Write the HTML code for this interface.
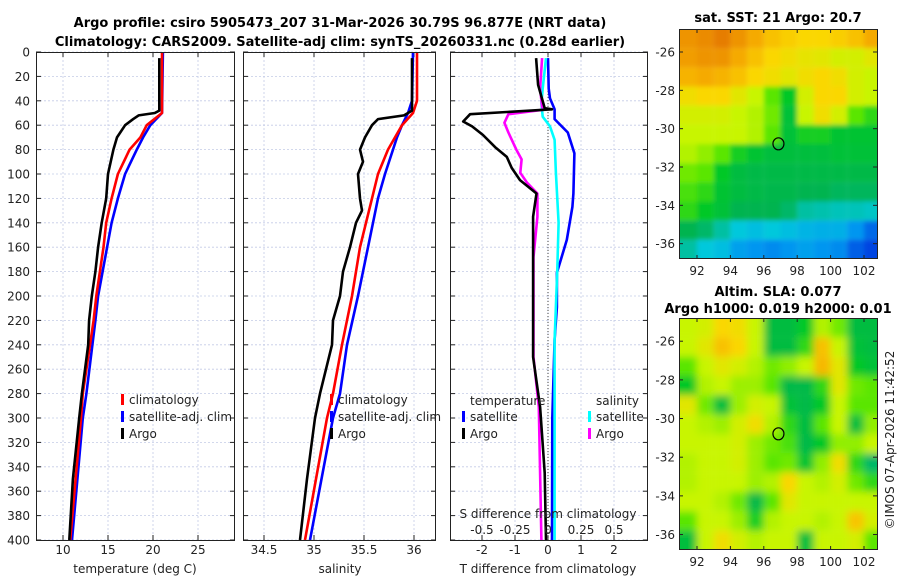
<!DOCTYPE html>
<html><head><meta charset="utf-8"><style>
html,body{margin:0;padding:0;background:#fff;}
svg{display:block;font-family:"DejaVu Sans","Liberation Sans",sans-serif;}
</style></head><body>
<svg id="chart" width="900" height="580" viewBox="0 0 900 580" xmlns="http://www.w3.org/2000/svg">
<defs>
<clipPath id="c1"><rect x="36" y="52" width="199" height="488"/></clipPath>
<clipPath id="c2"><rect x="243" y="52" width="193" height="488"/></clipPath>
<clipPath id="c3"><rect x="450" y="52" width="198" height="488"/></clipPath>
<clipPath id="cm1"><rect x="679" y="29" width="198" height="230"/></clipPath>
<clipPath id="cm2"><rect x="679" y="318" width="198" height="232"/></clipPath>
<filter id="blur1" x="-5%" y="-5%" width="110%" height="110%"><feGaussianBlur stdDeviation="2.5"/></filter>
<filter id="blur2" x="-5%" y="-5%" width="110%" height="110%"><feGaussianBlur stdDeviation="4"/></filter>
</defs>
<text x="340" y="27" text-anchor="middle" font-size="13" font-weight="bold">Argo profile: csiro 5905473_207 31-Mar-2026 30.79S 96.877E (NRT data)</text>
<text x="340" y="46" text-anchor="middle" font-size="13" font-weight="bold">Climatology: CARS2009. Satellite-adj clim: synTS_20260331.nc (0.28d earlier)</text>
<text x="778" y="22" text-anchor="middle" font-size="13" font-weight="bold">sat. SST: 21 Argo: 20.7</text>
<text x="778" y="296" text-anchor="middle" font-size="13" font-weight="bold">Altim. SLA: 0.077</text>
<text x="778" y="313" text-anchor="middle" font-size="13" font-weight="bold">Argo h1000: 0.019 h2000: 0.01</text>
<text transform="translate(894,440) rotate(-90)" text-anchor="middle" font-size="12" fill="#222">©IMOS 07-Apr-2026 11:42:52</text>
<g id="root"></g>
</svg>
<script>
// ---------- data ----------
const depthTicks = [0,20,40,60,80,100,120,140,160,180,200,220,240,260,280,300,320,340,360,380,400];
const tTicks = [10,15,20,25];
const sTicks = [34.5,35,35.5,36];
const dtTicks = [-2,-1,0,1,2];
const dsTickLabels = ["-0.5","-0.25","0","0.25","0.5"];
const dsTicks = [-0.5,-0.25,0,0.25,0.5];

const tArgoDepth = [5,30,48,50,52,55,60,70,80,100,120,140,160,180,200,220,240,280,300,350,400];
const tArgo      = [20.7,20.7,20.7,20.2,18.4,17.8,16.9,16.0,15.6,15.0,14.8,14.3,13.9,13.6,13.2,12.9,12.8,12.1,11.8,11.1,10.7];
const tClimDepth = [0,50,60,70,80,100,120,140,160,180,200,220,280,300,400];
const tClim      = [21.0,21.0,19.3,18.6,17.4,16.1,15.4,14.8,14.5,14.1,13.7,13.4,12.2,12.0,10.8];
const tSat       = [21.1,21.0,19.7,18.9,18.2,16.9,16.1,15.4,14.9,14.4,13.9,13.6,12.6,12.2,11.0];

const sArgoDepth = [5,48,52,55,60,70,80,90,100,120,130,140,160,180,200,220,240,280,300,350,400];
const sArgo      = [35.98,35.98,35.9,35.64,35.58,35.51,35.46,35.49,35.44,35.46,35.48,35.42,35.36,35.29,35.26,35.19,35.18,35.06,35.01,34.93,34.86];
const sClimDepth = [0,40,50,60,70,80,100,120,160,200,240,280,300,400];
const sClim      = [36.03,36.03,35.99,35.88,35.81,35.74,35.64,35.58,35.46,35.38,35.28,35.19,35.13,34.91];
const sSat       = [35.99,35.98,35.94,35.88,35.83,35.79,35.71,35.64,35.54,35.44,35.33,35.26,35.19,34.96];

const dtArgoDepth = [5,27,46,47,51,57,61,68,78,86,95,105,116,135,250,291,345,400];
const dtArgo      = [-0.36,-0.3,-0.1,0.12,-2.36,-2.57,-2.3,-1.97,-1.6,-1.25,-1.1,-0.85,-0.35,-0.45,-0.45,-0.24,-0.1,-0.06];
const dtSatDepth = [5,30,38,47,55,66,83,116,127,154,181,209,236,300,400];
const dtSat      = [0,0.02,0.06,0.2,0.2,0.6,0.8,0.77,0.74,0.57,0.27,0.27,0.2,0.13,0.12];
const dsArgoDepth = [5,30,45,47,51,58,66,80,88,99,107,116,135,168,250,291,400];
const dsArgo      = [-0.045,-0.06,-0.045,-0.01,-0.3,-0.33,-0.3,-0.24,-0.2,-0.21,-0.16,-0.08,-0.08,-0.11,-0.11,-0.07,-0.05];
const dsSatDepth = [5,30,42,53,61,72,99,140,181,236,400];
const dsSat      = [-0.015,-0.04,-0.05,-0.04,0.015,0.05,0.06,0.08,0.07,0.05,0.05];

const mapLonTicks = [92,94,96,98,100,102];
const mapLatTicks = [-26,-28,-30,-32,-34,-36];
const argoLon = 96.877, argoLat = -30.79;
const sstGrid = [
[0.95,0.97,1.0,0.95,0.9,0.85,0.82,0.8,0.8,0.82,0.85,0.9],
[0.93,0.95,0.95,0.9,0.85,0.8,0.78,0.76,0.75,0.72,0.72,0.75],
[0.88,0.9,0.88,0.85,0.8,0.78,0.75,0.78,0.8,0.78,0.72,0.7],
[0.78,0.8,0.8,0.75,0.7,0.6,0.5,0.72,0.8,0.8,0.72,0.7],
[0.72,0.72,0.72,0.7,0.68,0.62,0.47,0.7,0.78,0.72,0.6,0.55],
[0.7,0.7,0.7,0.7,0.68,0.6,0.47,0.52,0.52,0.48,0.48,0.48],
[0.68,0.65,0.6,0.52,0.48,0.46,0.46,0.46,0.46,0.47,0.47,0.47],
[0.62,0.6,0.5,0.45,0.44,0.44,0.44,0.44,0.44,0.44,0.44,0.44],
[0.58,0.55,0.48,0.45,0.44,0.43,0.43,0.42,0.42,0.41,0.41,0.41],
[0.55,0.5,0.47,0.42,0.42,0.42,0.4,0.35,0.34,0.33,0.33,0.32],
[0.42,0.4,0.35,0.3,0.28,0.3,0.28,0.26,0.25,0.25,0.2,0.12],
[0.35,0.3,0.28,0.22,0.2,0.18,0.2,0.22,0.2,0.18,0.1,0.05]];
const slaGrid = [
[0.7,0.72,0.8,0.78,0.7,0.45,0.45,0.5,0.68,0.62,0.45,0.45],
[0.7,0.75,0.85,0.8,0.7,0.45,0.45,0.55,0.85,0.7,0.47,0.45],
[0.6,0.7,0.75,0.72,0.68,0.62,0.65,0.7,0.87,0.75,0.5,0.47],
[0.5,0.68,0.7,0.66,0.66,0.6,0.44,0.44,0.55,0.75,0.62,0.6],
[0.75,0.62,0.46,0.66,0.72,0.7,0.47,0.44,0.5,0.7,0.6,0.6],
[0.7,0.68,0.66,0.72,0.78,0.68,0.55,0.45,0.6,0.7,0.46,0.65],
[0.7,0.7,0.7,0.72,0.66,0.62,0.58,0.44,0.5,0.65,0.65,0.7],
[0.68,0.7,0.7,0.72,0.66,0.6,0.62,0.48,0.65,0.78,0.55,0.4],
[0.68,0.7,0.7,0.7,0.66,0.68,0.8,0.7,0.68,0.72,0.62,0.55],
[0.7,0.7,0.68,0.62,0.44,0.6,0.75,0.7,0.7,0.7,0.7,0.7],
[0.6,0.7,0.7,0.66,0.52,0.68,0.7,0.7,0.68,0.7,0.84,0.72],
[0.46,0.7,0.78,0.72,0.68,0.7,0.7,0.46,0.7,0.7,0.72,0.6]];

// ---------- helpers ----------
const NS = "http://www.w3.org/2000/svg";
const root = document.getElementById('root');
function el(tag, attrs, parent){ const e=document.createElementNS(NS,tag); for(const k in attrs) e.setAttribute(k,attrs[k]); (parent||root).appendChild(e); return e; }
const Y0=52, Y1=540;
const yD = d => Y0 + d*(Y1-Y0)/400;
const xT = t => 63 + (t-10)*9;
const xS = s => 314 + (s-35)*100;
const xDT = v => 548 + v*33;
const xDS = v => 548 + v*132;

function panel(x0,x1,name){
  const g=el('g',{});
  
  
  depthTicks.forEach(d=>{
    const l=el('line',{x1:x0,x2:x1,y1:yD(d),y2:yD(d),stroke:'#c4cbe6','stroke-width':0.8,'stroke-dasharray':'2,2'},g);
    
    
    el('line',{x1:x0,x2:x0+5,y1:yD(d),y2:yD(d),stroke:'#222'},g);
    el('line',{x1:x1-5,x2:x1,y1:yD(d),y2:yD(d),stroke:'#222'},g);
  });
  return g;
}
function vgrid(g,xs){ xs.forEach(x=>{
  const l=el('line',{x1:x,x2:x,y1:Y0,y2:Y1,stroke:'#c4cbe6','stroke-width':0.8,'stroke-dasharray':'2,2'},g);
  
  
  el('line',{x1:x,x2:x,y1:Y1-5,y2:Y1,stroke:'#222'},g);
  el('line',{x1:x,x2:x,y1:Y0,y2:Y0+5,stroke:'#222'},g);
});}
function frame(g,x0,x1){ el('rect',{x:x0+0.5,y:Y0+0.5,width:x1-x0-1,height:Y1-Y0,fill:'none',stroke:'#222','stroke-width':1},g); }
function line(g,depths,vals,fx,color,name,clip){
  const pts=depths.map((d,i)=>fx(vals[i]).toFixed(1)+','+yD(d).toFixed(1)).join(' ');
  const p=el('polyline',{points:pts,fill:'none',stroke:color,'stroke-width':2.6,'stroke-linejoin':'round','clip-path':'url(#'+clip+')'},g);
  
  
}
function text(g,x,y,s,anchor,size,name){
  const t=el('text',{x:x,y:y,'text-anchor':anchor||'start','font-size':size||12,fill:'#222'},g);
  t.textContent=s;
  
  
  return t;
}
function legend(g,x,y,color,label){
  const m=el('rect',{x:x,y:y-10,width:3,height:11,fill:color},g);
  
  
  text(g,x+8,y,label,'start',12,'legend-entry');
}

// ---------- panel 1: temperature ----------
const p1=panel(36,235,'temperature-panel');
vgrid(p1,tTicks.map(xT));
line(p1,tClimDepth,tSat,xT,'#0000ff','temp-satellite-line','c1');
line(p1,tClimDepth,tClim,xT,'#ff0000','temp-climatology-line','c1');
line(p1,tArgoDepth,tArgo,xT,'#000000','temp-argo-line','c1');
frame(p1,36,235);
depthTicks.forEach(d=>text(p1,30,yD(d)+4.5,String(d),'end',12,'depth-tick-label'));
tTicks.forEach(t=>text(p1,xT(t),554,String(t),'middle',12,'temp-tick-label'));
text(p1,135,573,'temperature (deg C)','middle',12,'temp-axis-title');
legend(p1,121,404,'#ff0000','climatology');
legend(p1,121,421,'#0000ff','satellite-adj. clim');
legend(p1,121,438,'#000000','Argo');

// ---------- panel 2: salinity ----------
const p2=panel(243,436,'salinity-panel');
vgrid(p2,sTicks.map(xS));
line(p2,sClimDepth,sSat,xS,'#0000ff','sal-satellite-line','c2');
line(p2,sClimDepth,sClim,xS,'#ff0000','sal-climatology-line','c2');
line(p2,sArgoDepth,sArgo,xS,'#000000','sal-argo-line','c2');
frame(p2,243,436);
sTicks.forEach(s=>text(p2,xS(s),554,String(s),'middle',12,'sal-tick-label'));
text(p2,340,573,'salinity','middle',12,'sal-axis-title');
legend(p2,330,404,'#ff0000','climatology');
legend(p2,330,421,'#0000ff','satellite-adj. clim');
legend(p2,330,438,'#000000','Argo');

// ---------- panel 3: differences ----------
const p3=panel(450,648,'difference-panel');
vgrid(p3,dtTicks.map(xDT));
const zl=el('line',{x1:548,x2:548,y1:Y0,y2:Y1,stroke:'#444','stroke-width':1,'stroke-dasharray':'1,2'},p3);


line(p3,dtSatDepth,dtSat,xDT,'#0000ff','dT-satellite-line','c3');
line(p3,dsSatDepth,dsSat,xDS,'#00ffff','dS-satellite-line','c3');
line(p3,dsArgoDepth,dsArgo,xDS,'#ff00ff','dS-argo-line','c3');
line(p3,dtArgoDepth,dtArgo,xDT,'#000000','dT-argo-line','c3');
frame(p3,450,648);
dtTicks.forEach(t=>text(p3,xDT(t),554,String(t),'middle',12,'dT-tick-label'));
text(p3,548,573,'T difference from climatology','middle',12,'dT-axis-title');
text(p3,548,518,'S difference from climatology','middle',12,'dS-axis-title');
dsTicks.forEach((v,i)=>text(p3,xDS(v),534,dsTickLabels[i],'middle',12,'dS-tick-label'));
text(p3,470,405,'temperature','start',12,'legend-heading-temperature');
text(p3,596,405,'salinity','start',12,'legend-heading-salinity');
legend(p3,462,421,'#0000ff','satellite');
legend(p3,462,438,'#000000','Argo');
legend(p3,588,421,'#00ffff','satellite');
legend(p3,588,438,'#ff00ff','Argo');

// ---------- maps ----------
const cstops=[[0,[0,40,220]],[0.2,[0,150,240]],[0.3,[0,200,220]],[0.42,[0,180,80]],[0.5,[0,200,40]],[0.6,[90,230,0]],[0.7,[200,245,0]],[0.8,[250,215,0]],[0.9,[245,170,0]],[1,[230,125,0]]];
function cmap(v){
  for(let i=1;i<cstops.length;i++){ if(v<=cstops[i][0]){ const a=cstops[i-1],b=cstops[i],f=(v-a[0])/(b[0]-a[0]);
    return 'rgb('+a[1].map((c,k)=>Math.round(c+(b[1][k]-c)*f)).join(',')+')'; } }
  return 'rgb(230,125,0)';
}
function drawMap(grid,top,bottom,clip,blur,name){
  const g=el('g',{});
  
  
  const mx=lon=>697+(lon-92)*16.7;
  const my=lat=>top+(-24.8-lat)*(bottom-top)/12;
  const inner=el('g',{'clip-path':'url(#'+clip+')'},g);
  const bl=el('g',{filter:'url(#'+blur+')'},inner);
  grid.forEach((row,r)=>row.forEach((v,c)=>{
    const lonA=91+c, latA=-24.8-r;
    const cell=el('rect',{x:mx(lonA)-(c===0?20:0),y:my(latA)-(r===0?20:0),width:mx(lonA+1)-mx(lonA)+(c===0?20:0)+(c===11?20:0),height:my(latA-1)-my(latA)+(r===0?20:0)+(r===11?20:0),fill:cmap(v)},bl);
    
    
  }));
  el('rect',{x:679.5,y:top+0.5,width:198,height:bottom-top-1,fill:'none',stroke:'#222'},g);
  mapLonTicks.forEach(l=>{ el('line',{x1:mx(l),x2:mx(l),y1:bottom-4,y2:bottom,stroke:'#222'},g); el('line',{x1:mx(l),x2:mx(l),y1:top,y2:top+4,stroke:'#222'},g);
    text(g,mx(l),bottom+16,String(l),'middle',12,'map-lon-tick'); });
  mapLatTicks.forEach(l=>{ el('line',{x1:679,x2:683,y1:my(l),y2:my(l),stroke:'#222'},g); el('line',{x1:873,x2:877,y1:my(l),y2:my(l),stroke:'#222'},g);
    text(g,675,my(l)+4.5,String(l),'end',12,'map-lat-tick'); });
  const m=el('ellipse',{cx:mx(argoLon),cy:my(argoLat),rx:5.5,ry:6,fill:'none',stroke:'#000','stroke-width':1.2},g);
  
  
}
drawMap(sstGrid,29,259,'cm1','blur1','sst-map');
drawMap(slaGrid,318,550,'cm2','blur2','sla-map');
</script>
</body></html>
